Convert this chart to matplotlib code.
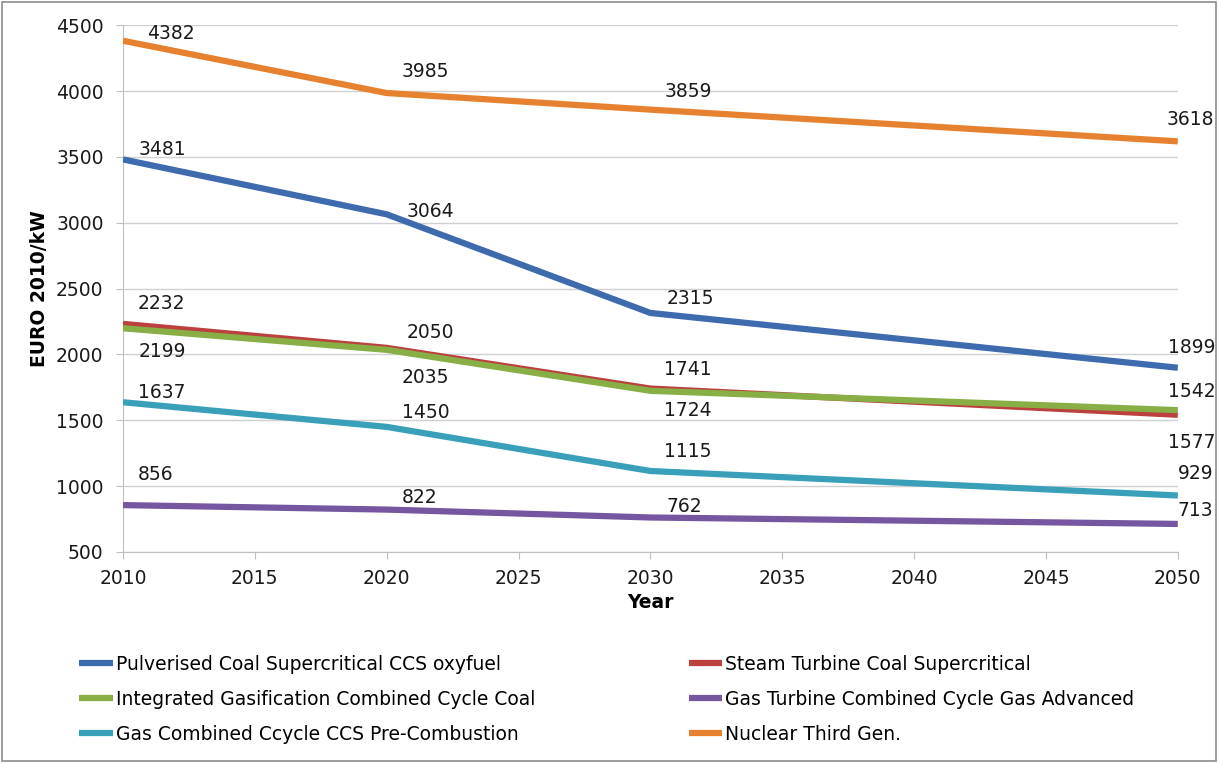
import matplotlib.pyplot as plt
from matplotlib.patches import Rectangle

years = [2010, 2020, 2030, 2050]

series_names = [
    "Pulverised Coal Supercritical CCS oxyfuel",
    "Integrated Gasification Combined Cycle Coal",
    "Gas Combined Ccycle CCS Pre-Combustion",
    "Steam Turbine Coal Supercritical",
    "Gas Turbine Combined Cycle Gas Advanced",
    "Nuclear Third Gen.",
]
pc_ccs = [3481, 3064, 2315, 1899]
igcc = [2199, 2035, 1724, 1577]
gas_ccs = [1637, 1450, 1115, 929]
steam_sc = [2232, 2050, 1741, 1542]
gas_adv = [856, 822, 762, 713]
nuclear = [4382, 3985, 3859, 3618]

colors = ["#3D6BAE", "#88AE46", "#3AA0BA", "#BB403E", "#7656A0", "#E6822F"]

# data label offsets in pixels (left edge dx, centre dy) as placed in the original
label_offsets_px = [
    [(16, 10), (20, 3), (16, 14), (-10, 20)],
    [(16, -23), (15, -28), (14, -20), (-10, -32)],
    [(15, 10), (15, 14), (14, 19), (0, 21.5)],
    [(15, 20), (20, 15), (14, 19.5), (-10, 23)],
    [(15, 31), (15, 11.6), (16, 10.5), (0, 13)],
    [(24, 7.5), (15, 22), (14, 18.5), (-11, 22)],
]

all_series = [pc_ccs, igcc, gas_ccs, steam_sc, gas_adv, nuclear]
draw_order = [5, 0, 3, 1, 2, 4]

fig = plt.figure(figsize=(12.18, 7.64), dpi=100)
ax = fig.add_axes([0.101, 0.2775, 0.866, 0.6895])

handles = [None] * 6
for i in draw_order:
    (ln,) = ax.plot(years, all_series[i], color=colors[i], lw=4.5,
                    solid_capstyle="butt", label=series_names[i], zorder=3)
    handles[i] = ln
    for x, y, (dx, dy) in zip(years, all_series[i], label_offsets_px[i]):
        ax.annotate(str(y), (x, y), xytext=(dx * 0.72, dy * 0.72),
                    textcoords="offset points", ha="left", va="center",
                    fontsize=13.5, color="#1a1a1a")

ax.set_xlim(2010, 2050)
ax.set_ylim(500, 4500)
ax.set_xticks(range(2010, 2051, 5))
ax.set_yticks(range(500, 4501, 500))
ax.tick_params(labelsize=13.5, colors="#1a1a1a", length=5, color="#bfbfbf")
ax.tick_params(axis="x", pad=7)
ax.tick_params(axis="y", pad=9)
ax.grid(axis="y", color="#d0d0d0", lw=1)
ax.set_axisbelow(True)
for s in ["top", "right"]:
    ax.spines[s].set_visible(False)
for s in ["left", "bottom"]:
    ax.spines[s].set_color("#bfbfbf")

ax.set_xlabel("Year", fontsize=13.5, fontweight="bold", labelpad=4)
ax.set_ylabel("EURO 2010/kW", fontsize=13.5, fontweight="bold", labelpad=5)

leg = fig.legend(handles=handles, labels=series_names, ncol=2, loc="upper left",
                 bbox_to_anchor=(0.051, 0.165), frameon=False, fontsize=13.5,
                 handlelength=1.8, handletextpad=0.15, columnspacing=8.2,
                 labelspacing=0.85)

fig.patches.append(Rectangle((0.002, 0.004), 0.996, 0.993, transform=fig.transFigure,
                             fill=False, edgecolor="#8c8c8c", lw=1.2))

fig.savefig("out.png", dpi=100)
